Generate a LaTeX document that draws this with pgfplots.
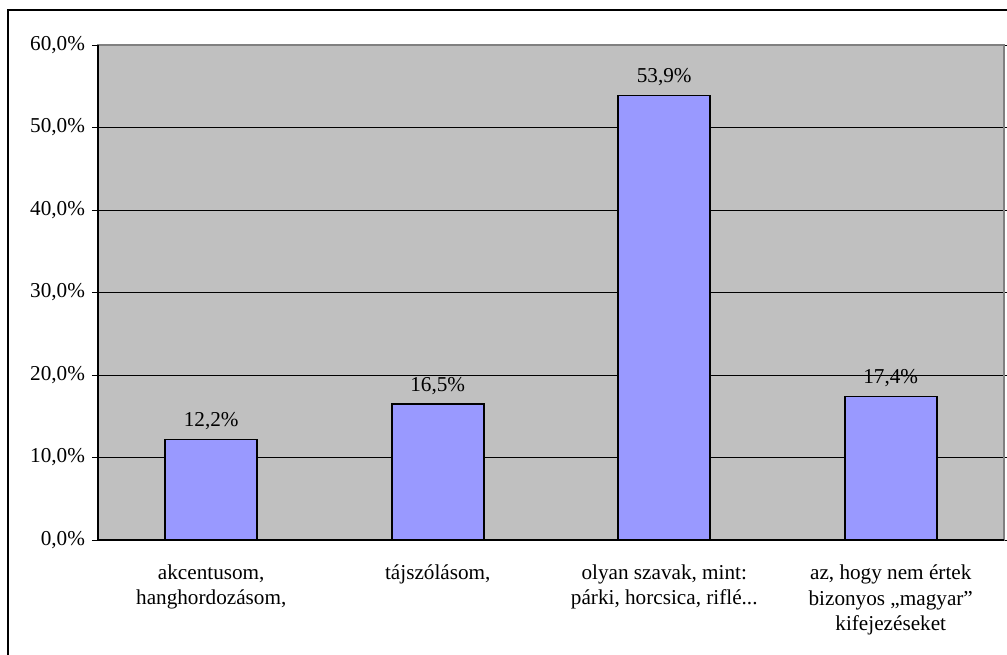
\documentclass[border=0pt]{standalone}
\usepackage{fontspec}
\setmainfont{Liberation Serif}
\usepackage{pgfplots}
\pgfplotsset{compat=1.18}
\definecolor{plotbg}{HTML}{C0C0C0}
\definecolor{barfill}{HTML}{9999FF}
\definecolor{framegray}{HTML}{808080}
\newcommand{\threedots}{.\kern0pt.\kern0pt.}
\begin{document}
\begin{tikzpicture}
\begin{axis}[
  at={(0,0)}, anchor=south west,
  scale only axis,
  width=453pt, height=247.5pt,
  xmin=-0.5, xmax=3.5,
  ymin=0, ymax=60,
  ytick={0,10,20,30,40,50,60},
  yticklabels={{0,0\%},{10,0\%},{20,0\%},{30,0\%},{40,0\%},{50,0\%},{60,0\%}},
  xtick={0,1,2,3},
  xticklabels={{akcentusom,\\hanghordozásom,},{tájszólásom,},{olyan szavak, mint:\\párki, horcsica, riflé\threedots},{az, hogy nem értek\\bizonyos „magyar”\\kifejezéseket}},
  xticklabel style={align=center, yshift=-6pt, font=\fontsize{10.6pt}{12.6pt}\selectfont},
  yticklabel style={font=\fontsize{10.6pt}{12.6pt}\selectfont},
  major x tick style={draw=none},
  extra x ticks={-0.5,0.5,1.5,2.5,3.5},
  extra x tick labels={},
  extra x tick style={major tick style={draw=black, line width=0.5pt}, grid=none},
  tick align=outside,
  major tick length=3pt,
  tick style={black, line width=0.5pt},
  ymajorgrids,
  grid style={black, line width=0.5pt},
  axis background/.style={fill=plotbg},
  axis line style={draw=framegray, line width=0.6pt},
  ybar,
  bar width=46pt,
  nodes near coords,
  point meta=explicit symbolic,
  every node near coord/.append style={font=\fontsize{10.6pt}{12.6pt}\selectfont, black, yshift=1pt},
  clip=false,
]
\addplot[fill=barfill, draw=black, line width=0.8pt] coordinates {
  (0,12.2) [12,2\%]
  (1,16.5) [16,5\%]
  (2,53.9) [53,9\%]
  (3,17.4) [17,4\%]
};
\draw[black, line width=0.6pt] (rel axis cs:0,1) -- (rel axis cs:0,0) -- (rel axis cs:1,0);
\end{axis}
\draw[black, line width=0.8pt] (-45pt,-80pt) -- (-45pt,265pt) -- (470pt,265pt);
\pgfresetboundingbox
\path (-49pt,-57pt) rectangle (454.5pt,270pt);
\end{tikzpicture}
\end{document}
